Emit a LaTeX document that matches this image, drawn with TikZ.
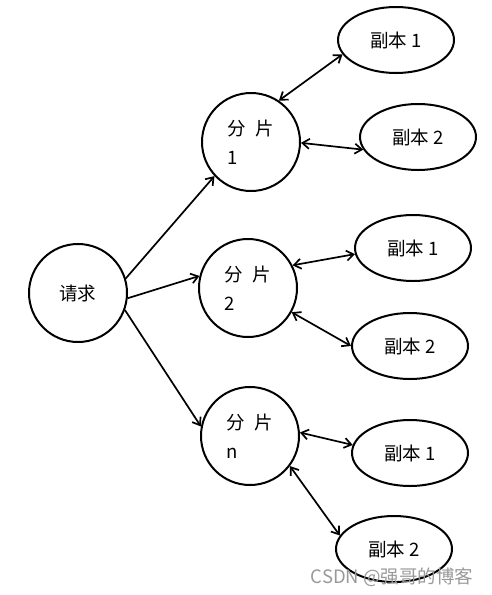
\documentclass[tikz,border=0pt]{standalone}
\usepackage{fontspec}
\setmainfont{Liberation Sans}
\newfontfamily\cjk{Noto Sans CJK SC}
\usetikzlibrary{shapes.geometric,arrows.meta}
\begin{document}
\begin{tikzpicture}[x=1pt,y=-1pt,
 every node/.style={font=\cjk\fontsize{18.5}{29}\selectfont},
 hub/.style={draw,circle,line width=2pt,minimum size=98pt,inner sep=0pt,align=left},
 rep/.style={draw,ellipse,line width=2pt,minimum width=116pt,minimum height=66pt,inner sep=0pt},
 link/.style={line width=1.7pt,-{Straight Barb[length=7pt,width=10pt]}},
 dlink/.style={line width=1.7pt,{Straight Barb[length=7pt,width=10pt]}-{Straight Barb[length=7pt,width=10pt]}},
 mark text/.style={font=\cjk\fontsize{18.5}{20}\selectfont,text=black!40}]
\useasboundingbox (0,0) rectangle (492,595);
\node[hub] (req) at (78,293) {请求};
\node[hub] (s1) at (251,142) {分\hspace{0.5em}片\\1};
\node[hub] (s2) at (248,288) {分\hspace{0.5em}片\\2};
\node[hub] (sn) at (250,436) {分\hspace{0.5em}片\\n};
\node[rep] (a1) at (396,40) {副本 1};
\node[rep] (a2) at (418,137) {副本 2};
\node[rep] (b1) at (413,248) {副本 1};
\node[rep] (b2) at (410,346) {副本 2};
\node[rep] (c1) at (410,453) {副本 1};
\node[rep] (c2) at (394,549) {副本 2};
\draw[link] (req.17) -- (s1.223);
\draw[link] (req.-6) -- (s2.166);
\draw[link] (req.-20) -- (sn.169);
\draw[dlink] (s1.56) -- (a1.195);
\draw[dlink] (s1.-1) -- (a2.193);
\draw[dlink] (s2.27) -- (b1.186);
\draw[dlink] (s2.-29) -- (b2.180);
\draw[dlink] (sn.4) -- (c1.172);
\draw[dlink] (sn.-37) -- (c2.166);
\node[mark text] (wm) at (392,577) {CSDN @强哥的博客};
\end{tikzpicture}
\end{document}
